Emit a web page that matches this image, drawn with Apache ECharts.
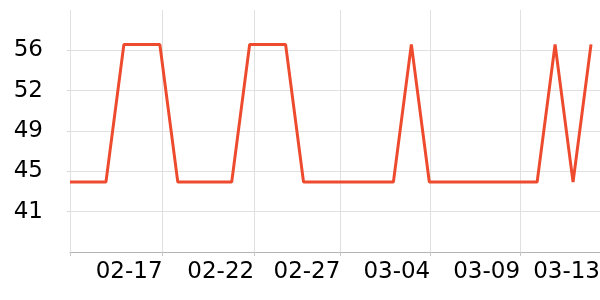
<!DOCTYPE html>
<html>
<head>
<meta charset="utf-8">
<script src="https://cdn.jsdelivr.net/npm/echarts@6/dist/echarts.min.js"></script>
<style>html,body{margin:0;padding:0;background:#fff}#c{width:600px;height:300px}</style>
</head>
<body>
<div id="c"></div>
<script>
// dates (one point per day)
const dates = ['02-12','02-13','02-14','02-15','02-16','02-17','02-18','02-19','02-20','02-21',
  '02-22','02-23','02-24','02-25','02-26','02-27','02-28','03-01','03-02','03-03',
  '03-04','03-05','03-06','03-07','03-08','03-09','03-10','03-11','03-12','03-13'];
const values = [44,44,44,56.8,56.8,56.8,44,44,44,44,
  56.8,56.8,56.8,44,44,44,44,44,44,56.8,
  44,44,44,44,44,44,44,56.8,44,56.8];
// x ticks (in day units from first date) and labels
const xTickDays = [0, 5.15, 10.25, 15.05, 20.05, 25.05];
const xLabelDays = [5.15, 10.25, 15.05, 20.05, 25.05, 29.5];
const xLabels = ['02-17','02-22','02-27','03-04','03-09','03-13'];
const xMaxDay = 29.5;
// y ticks
const yMin = 37.5, yMax = 60, yStep = 3.75;
const yTickLabels = ['', '41', '45', '49', '52', '56', ''];

const chart = echarts.init(document.getElementById('c'), null, {renderer: 'canvas'});
const font = 'DejaVu Sans';
chart.setOption({
  animation: false,
  grid: {left: 70, right: 0, top: 10, bottom: 48, outerBoundsMode: 'none'},
  xAxis: {
    type: 'value', min: 0, max: xMaxDay,
    axisLine: {show: true, lineStyle: {color: '#b4b4b4', width: 1}},
    axisTick: {show: true, length: 4, customValues: xTickDays, lineStyle: {color: '#c8c8c8'}},
    splitLine: {show: true, lineStyle: {color: '#e0e0e0', width: 1}},
    axisLabel: {
      customValues: xLabelDays, align: 'right', margin: 9,
      color: '#000', fontSize: 23, fontFamily: font,
      formatter: function (v) {
        let best = 0;
        for (let k = 0; k < xLabelDays.length; k++) if (Math.abs(xLabelDays[k] - v) < Math.abs(xLabelDays[best] - v)) best = k;
        return xLabels[best];
      }
    }
  },
  yAxis: {
    type: 'value', min: yMin, max: yMax, interval: yStep,
    axisLine: {show: false},
    axisTick: {show: true, length: 3, lineStyle: {color: '#d8d8d8'}},
    splitLine: {show: true, showMinLine: false, showMaxLine: false, lineStyle: {color: '#e0e0e0', width: 1}},
    axisLabel: {
      showMinLabel: false, showMaxLabel: false, margin: 27,
      color: '#000', fontSize: 23, fontFamily: font,
      formatter: function (v) { return yTickLabels[Math.round((v - yMin) / yStep)] || ''; }
    }
  },
  series: [{
    type: 'line',
    data: values.map((v, i) => [i, v]),
    showSymbol: false,
    lineStyle: {color: '#ee4b2e', width: 3},
    itemStyle: {color: '#ee4b2e'}
  }]
});
</script>
</body>
</html>
